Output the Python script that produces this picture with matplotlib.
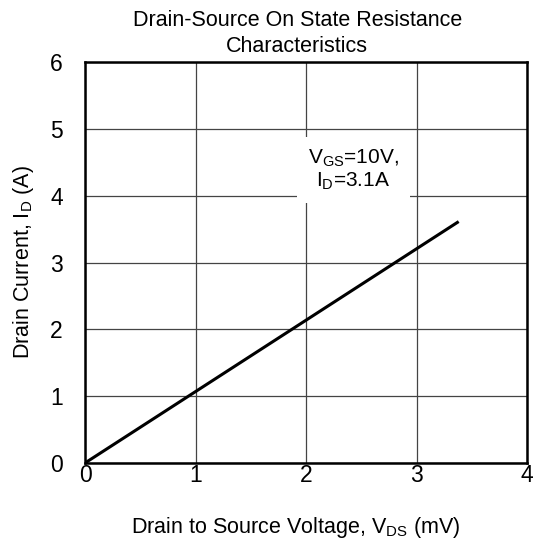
import matplotlib
matplotlib.use("Agg")
import matplotlib.pyplot as plt

plt.rcParams['font.family'] = ['Liberation Sans', 'DejaVu Sans']
plt.rcParams['mathtext.default'] = 'regular'

vds = [0.0, 3.37]
i_d = [0.0, 3.6]
x_ticks = [0, 1, 2, 3, 4]
y_ticks = [0, 1, 2, 3, 4, 5, 6]

fig = plt.figure(figsize=(5.4, 5.45), dpi=100)
ax = fig.add_axes([85/540, 1 - 463/545, (527-85)/540, (463-62)/545])
ax.set_xlim(0, 4)
ax.set_ylim(0, 6)
ax.set_xticks(x_ticks)
ax.set_yticks(y_ticks)
ax.tick_params(length=0, labelsize=16.5)
ax.tick_params(axis='x', pad=1)
ax.tick_params(axis='y', pad=16)
ax.grid(True, color='#444444', linewidth=0.9)
ax.set_axisbelow(True)
for s in ax.spines.values():
    s.set_linewidth(1.8)
    s.set_color('black')

ax.plot(vds, i_d, color='black', linewidth=2.2, zorder=3)

ax.text(2.43, 4.38, 'V$_{GS}$=10V,\nI$_{D}$=3.1A', ha='center', va='center',
        fontsize=15, linespacing=1.1,
        bbox=dict(facecolor='white', edgecolor='none', pad=8), zorder=4)

ax.set_title('Drain-Source On State Resistance\nCharacteristics', fontsize=15.5, pad=7,
             linespacing=1.3, x=0.48)
ax.set_xlabel('Drain to Source Voltage, V$_{DS}$ (mV)', fontsize=15.5, labelpad=20, x=0.477)
ax.set_ylabel('Drain Current, I$_{D}$ (A)', fontsize=15.5, labelpad=10)

fig.savefig('out.png', dpi=100)
